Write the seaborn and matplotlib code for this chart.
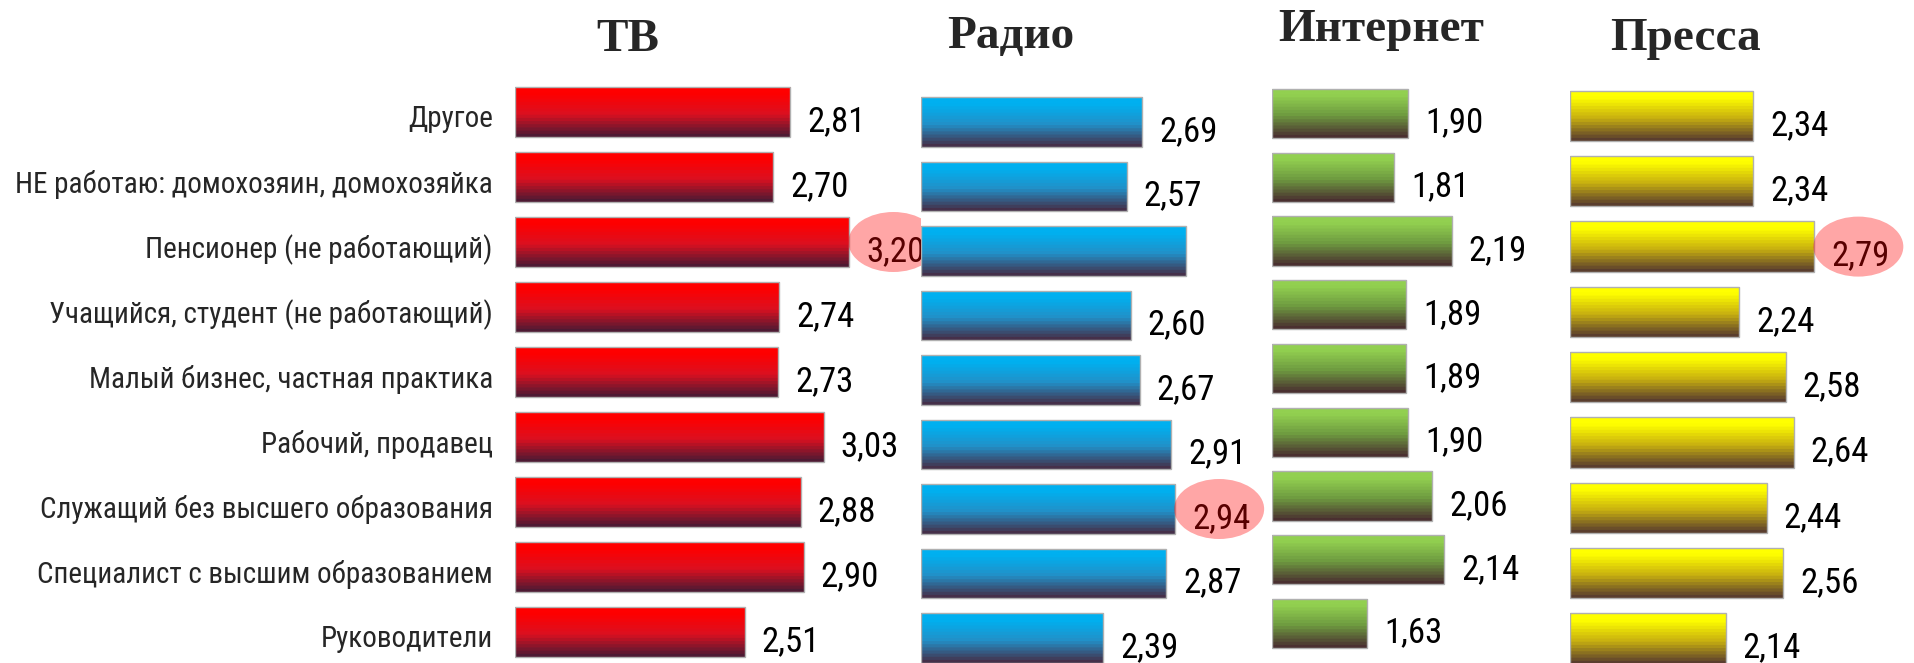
import numpy as np
import pandas as pd
import seaborn as sns
import matplotlib.pyplot as plt
import matplotlib.transforms as mtransforms
from matplotlib import font_manager
from matplotlib.colors import LinearSegmentedColormap
from matplotlib.patches import Ellipse

# %% data
categories = [
    "Другое",
    "НЕ работаю: домохозяин, домохозяйка",
    "Пенсионер (не работающий)",
    "Учащийся, студент (не работающий)",
    "Малый бизнес, частная практика",
    "Рабочий, продавец",
    "Служащий без высшего образования",
    "Специалист с высшим образованием",
    "Руководители",
]
tv = [2.81, 2.70, 3.20, 2.74, 2.73, 3.03, 2.88, 2.90, 2.51]
radio = [2.69, 2.57, 3.02, 2.60, 2.67, 2.91, 2.94, 2.87, 2.39]
internet = [1.90, 1.81, 2.19, 1.89, 1.89, 1.90, 2.06, 2.14, 1.63]
press = [2.34, 2.34, 2.79, 2.24, 2.58, 2.64, 2.44, 2.56, 2.14]
titles = ["ТВ", "Радио", "Интернет", "Пресса"]
circled = [2, 6, None, 2]       # row whose value is circled
unlabeled = [None, 2, None, None]  # row with no value printed

# %% style
sns.set_theme(style="white")

# look for a narrow sans face, otherwise shrink Liberation Sans
condensed = []
for f in font_manager.fontManager.ttflist:
    if f.stretch in ("condensed", "semi-condensed", "extra-condensed", "ultra-condensed") \
            or "Narrow" in f.name or "Condensed" in f.name:
        condensed.append(f.name)
prefer = ["Liberation Sans Narrow", "Roboto Condensed", "DejaVu Sans", "Noto Sans",
          "Open Sans", "Liberation Sans"]
narrow = next((c for c in prefer if c in condensed), None)
if narrow:
    plt.rcParams["font.family"] = [narrow, "DejaVu Sans"]
    plt.rcParams["font.stretch"] = "condensed"
    cat_size, val_size = 21, 25
else:
    plt.rcParams["font.family"] = ["Liberation Sans", "DejaVu Sans"]
    cat_size, val_size = 18, 22

W, H = 1915, 663
fig = plt.figure(figsize=(W / 100, H / 100), dpi=100)

# layout in pixels: bar start, px per unit, axis width, first row centre, row step, title pos
panels = [
    dict(x0=515, k=152, w=400, y0=112, step=65.0, tx=628, ty=40,
         cols=["#FF0000", "#FF0000", "#DC1020", "#4E1A33"]),
    dict(x0=921, k=131, w=344, y0=122, step=64.5, tx=1011, ty=37,
         cols=["#00B0F0", "#00B0F0", "#2290C8", "#45304A"]),
    dict(x0=1272, k=151, w=293, y0=113.5, step=63.75, tx=1381, ty=30,
         cols=["#92D050", "#92D050", "#6E9A40", "#4A3030"]),
    dict(x0=1570, k=136.5, w=345, y0=116, step=65.3, tx=1686, ty=39,
         cols=["#FFFF00", "#FFFF00", "#C8B010", "#5A3E2E"]),
]
series = [tv, radio, internet, press]

for n, (vals, p) in enumerate(zip(series, panels)):
    top = p["y0"] - p["step"] / 2
    hpx = 9 * p["step"]
    ax = fig.add_axes([p["x0"] / W, 1 - (top + hpx) / H, p["w"] / W, hpx / H])
    df = pd.DataFrame({"cat": categories, "val": vals})
    sns.barplot(data=df, x="val", y="cat", orient="h", ax=ax, width=0.77,
                color=p["cols"][0], saturation=1, edgecolor="#B0B0B0", linewidth=1)
    xmax = 1 + p["w"] / p["k"]

    cmap = LinearSegmentedColormap.from_list(
        "g", list(zip([0, 0.12, 0.55, 1], p["cols"])), N=16)
    grad = np.linspace(0, 1, 64).reshape(-1, 1)
    for bar, v in zip(ax.patches, vals):
        bar.set_x(1.0)
        bar.set_width(v - 1.0)
        bar.set_facecolor("none")
        bar.set_zorder(2)
        y0 = bar.get_y()
        y1 = y0 + bar.get_height()
        im = ax.imshow(grad, cmap=cmap, aspect="auto", origin="upper",
                       extent=(1.0, v, y1, y0), zorder=1)
        im.set_clip_path(bar)

    ax.set_xlim(1.0, xmax)
    ax.set_ylim(8.5, -0.5)

    for i, v in enumerate(vals):
        if i == unlabeled[n]:
            continue
        ax.text(v + 17 / p["k"], i + 19 / p["step"], f"{v:.2f}".replace(".", ","),
                ha="left", va="baseline", fontsize=val_size, color="black", zorder=3,
                clip_on=False)
        if i == circled[n]:
            ax.add_patch(Ellipse((v + 44 / p["k"], i), 90 / p["k"], 60 / p["step"],
                                 facecolor="red", alpha=0.35, edgecolor="none",
                                 zorder=4, clip_on=False))

    ax.set_xticks([])
    ax.set_xlabel("")
    ax.set_ylabel("")
    for s in ax.spines.values():
        s.set_visible(False)
    if n == 0:
        ax.tick_params(axis="y", length=0, pad=16, labelsize=cat_size)
        shift = mtransforms.ScaledTranslation(0, -3 / 72, fig.dpi_scale_trans)
        for lab in ax.get_yticklabels():
            lab.set_transform(lab.get_transform() + shift)
    else:
        ax.set_yticks([])

    fig.text(p["tx"] / W, 1 - p["ty"] / H, titles[n], ha="center", va="center",
             fontsize=34, fontweight="bold", family="Liberation Serif",
             fontstretch="normal")

fig.savefig("out.png", dpi=100)
